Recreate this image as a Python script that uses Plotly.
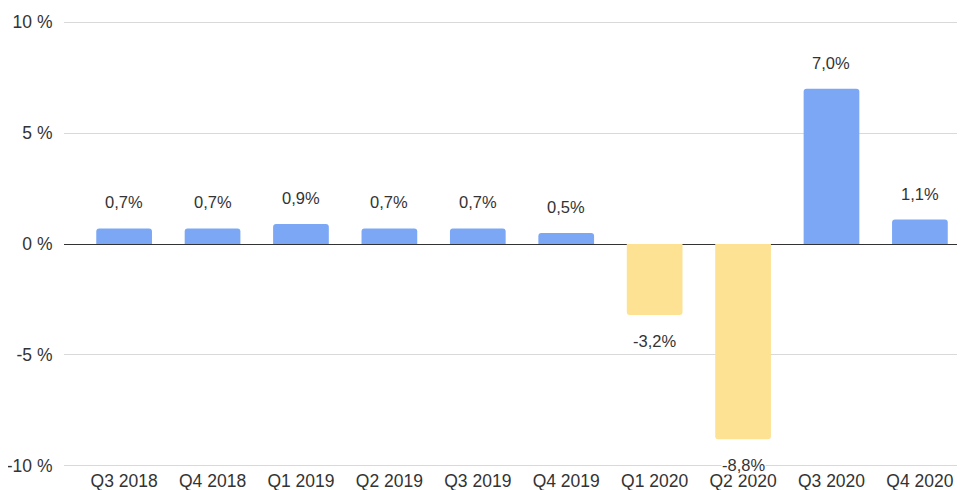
import plotly.graph_objects as go

categories = ["Q3 2018", "Q4 2018", "Q1 2019", "Q2 2019", "Q3 2019", "Q4 2019",
              "Q1 2020", "Q2 2020", "Q3 2020", "Q4 2020"]
values = [0.7, 0.7, 0.9, 0.7, 0.7, 0.5, -3.2, -8.8, 7.0, 1.1]
value_labels = ["0,7%", "0,7%", "0,9%", "0,7%", "0,7%", "0,5%", "-3,2%", "-8,8%", "7,0%", "1,1%"]
y_tick_vals = [-10, -5, 0, 5, 10]
y_tick_text = ["-10 %", "-5 %", "0 %", "5 %", "10 %"]

BLUE = "#7BA7F5"
YELLOW = "#FDE293"
colors = [BLUE if v >= 0 else YELLOW for v in values]

fig = go.Figure()
fig.add_trace(go.Bar(
    x=list(range(len(categories))), y=values,
    marker=dict(color=colors, line=dict(width=0), cornerradius=3),
    width=0.63, hoverinfo="skip",
))

for i, (v, t) in enumerate(zip(values, value_labels)):
    fig.add_annotation(
        x=i, y=v, text=t, showarrow=False,
        yshift=26 if v >= 0 else -26, yanchor="middle",
        font=dict(size=16.5, color="#333333"),
        bgcolor="white" if v < -8 else "rgba(0,0,0,0)",
        borderpad=0,
    )

fig.update_layout(
    width=965, height=490,
    margin=dict(l=56, r=8, t=12, b=30, autoexpand=False),
    paper_bgcolor="white", plot_bgcolor="white",
    font=dict(family="Liberation Sans, Arial, sans-serif", size=17, color="#333333"),
    showlegend=False,
)
fig.update_xaxes(
    range=[-0.68, 9.51], tickvals=list(range(len(categories))), ticktext=categories,
    showgrid=False, zeroline=False, showline=False,
    ticks="", ticklen=0,
    tickfont=dict(size=17.5, color="#333333"), automargin=False,
)
fig.update_yaxes(
    range=[-10.1, 10.1], tickvals=y_tick_vals, ticktext=y_tick_text,
    showgrid=True, gridcolor="#d9d9d9", gridwidth=1,
    zeroline=True, zerolinecolor="#333333", zerolinewidth=1,
    showline=False, ticks="outside", ticklen=7, tickcolor="rgba(0,0,0,0)",
    tickfont=dict(size=17.5, color="#333333"), automargin=False,
)

fig.write_html("out.html")
